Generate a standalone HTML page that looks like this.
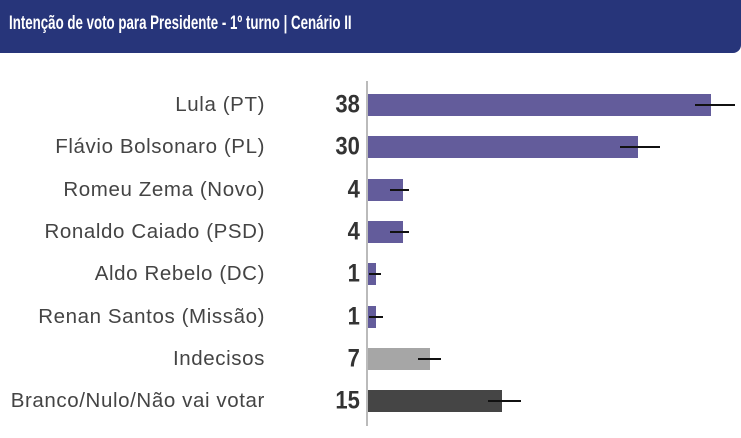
<!DOCTYPE html>
<html><head><style>
body{margin:0;width:741px;height:438px;background:#fff;overflow:hidden;position:relative;font-family:"Liberation Sans",sans-serif}
.hd{position:absolute;left:0;top:0;width:741px;height:53px;background:#27357a;border-bottom-right-radius:8px}
.hd span{position:absolute;left:9px;top:13px;color:#fff;font-weight:bold;font-size:19px;white-space:nowrap;transform:scaleX(0.7);transform-origin:left center}
.lab{position:absolute;right:476px;font-size:20.5px;letter-spacing:0.6px;color:#444;white-space:nowrap;transform:translateY(-50%)}
.num{position:absolute;right:381px;font-size:25px;font-weight:bold;color:#333;transform:translateY(-50%) scaleX(0.88);transform-origin:right center}
.bar{position:absolute;left:368px;height:22px}
.err{position:absolute;height:2px;background:#111}
.ax{position:absolute;left:366px;top:81px;width:2px;height:345px;background:#bbb}
</style></head><body>
<div class="hd"><span>Intenção de voto para Presidente - 1º turno | Cenário II</span></div>
<div class="ax"></div>

<div class="lab" style="top:105px">Lula (PT)</div><div class="num" style="top:105px">38</div>
<div class="bar" style="top:94px;width:343px;background:#635c9b"></div><div class="err" style="top:104px;left:695px;width:40px"></div>

<div class="lab" style="top:147px">Flávio Bolsonaro (PL)</div><div class="num" style="top:147px">30</div>
<div class="bar" style="top:136px;width:270px;background:#635c9b"></div><div class="err" style="top:146px;left:620px;width:40px"></div>

<div class="lab" style="top:190px">Romeu Zema (Novo)</div><div class="num" style="top:190px">4</div>
<div class="bar" style="top:179px;width:35px;background:#635c9b"></div><div class="err" style="top:189px;left:390px;width:19px"></div>

<div class="lab" style="top:232px">Ronaldo Caiado (PSD)</div><div class="num" style="top:232px">4</div>
<div class="bar" style="top:221px;width:35px;background:#635c9b"></div><div class="err" style="top:231px;left:390px;width:19px"></div>

<div class="lab" style="top:274px">Aldo Rebelo (DC)</div><div class="num" style="top:274px">1</div>
<div class="bar" style="top:263px;width:8px;background:#635c9b"></div><div class="err" style="top:273px;left:369px;width:12px"></div>

<div class="lab" style="top:317px">Renan Santos (Missão)</div><div class="num" style="top:317px">1</div>
<div class="bar" style="top:306px;width:8px;background:#635c9b"></div><div class="err" style="top:316px;left:369px;width:14px"></div>

<div class="lab" style="top:359px">Indecisos</div><div class="num" style="top:359px">7</div>
<div class="bar" style="top:348px;width:62px;background:#a6a6a6"></div><div class="err" style="top:358px;left:418px;width:23px"></div>

<div class="lab" style="top:401px">Branco/Nulo/Não vai votar</div><div class="num" style="top:401px">15</div>
<div class="bar" style="top:390px;width:134px;background:#454545"></div><div class="err" style="top:400px;left:488px;width:33px"></div>
</body></html>
